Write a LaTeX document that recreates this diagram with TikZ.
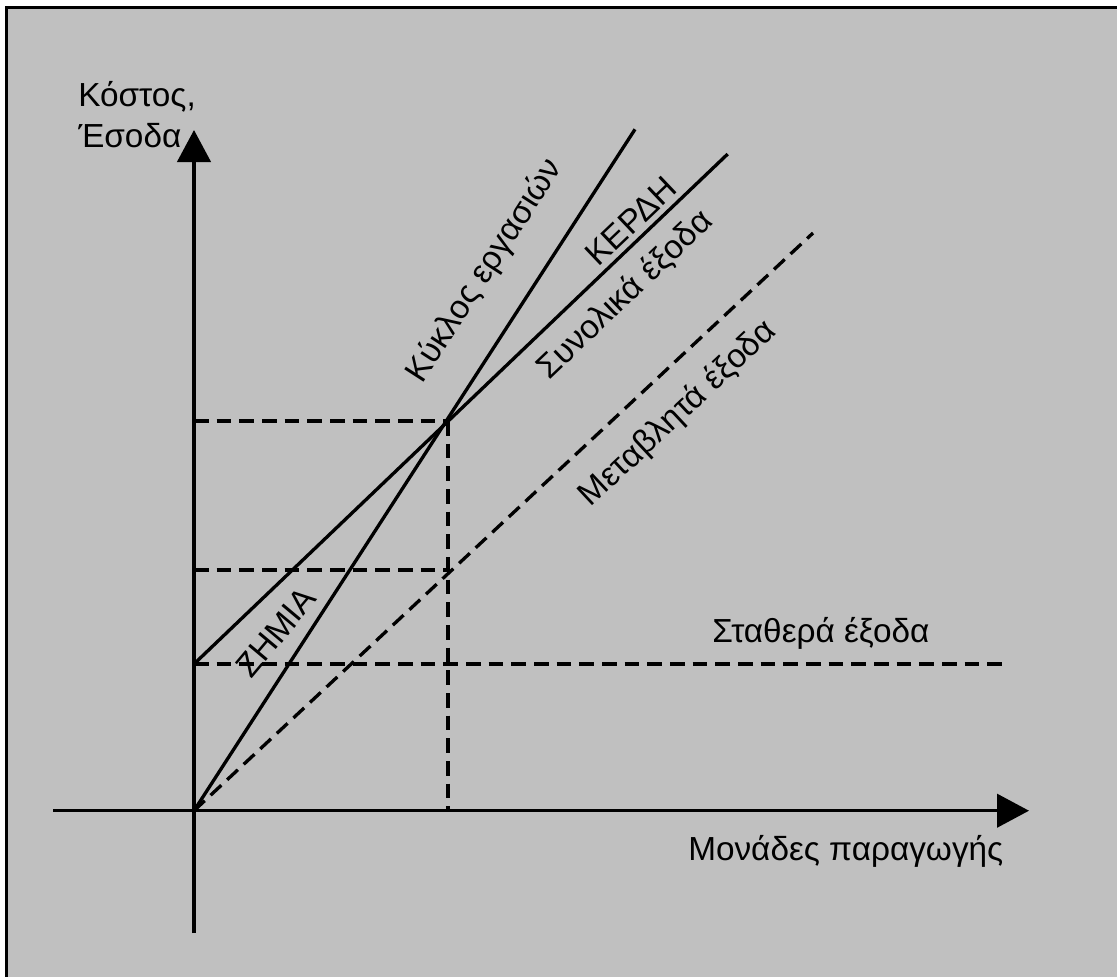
\documentclass[tikz,border=0pt]{standalone}
\usepackage{fontspec}
\setmainfont{Liberation Sans}
\usetikzlibrary{arrows.meta}
\definecolor{panelgray}{HTML}{C0C0C0}

\begin{document}
\begin{tikzpicture}[x=0.75pt, y=-0.75pt,
  axis/.style={line width=2.5pt, -{Triangle[length=24pt, width=25pt]}},
  costline/.style={line width=2.5pt},
  guideline/.style={line width=2.5pt, dash pattern=on 11pt off 6pt},
  lbl/.style={font=\fontsize{25}{30.75}\selectfont, inner sep=0pt}
]
  \useasboundingbox (0,0) rectangle (1117,976);
  \clip (0,0) rectangle (1117,976);
  \fill[white] (0,0) rectangle (1117,976);
  \filldraw[fill=panelgray, draw=black, line width=2.4pt] (6.7,7.7) rectangle (1140,1000);

  % key points
  \coordinate (O) at (194,810.7);
  \coordinate (xstart) at (53,810.7);
  \coordinate (xend) at (1029,810.7);
  \coordinate (ystart) at (194,933);
  \coordinate (yend) at (194,130);
  \coordinate (fixstart) at (194,664);
  \coordinate (fixend) at (1002,664);
  \coordinate (be) at (448,421);
  \coordinate (bex) at (448,810.7);
  \coordinate (bey) at (194,421);
  \coordinate (vcb) at (448,570);
  \coordinate (vcy) at (194,570);
  \coordinate (revend) at (635,129.3);
  \coordinate (totend) at (727.7,154);
  \coordinate (varend) at (813,233);

  % axes
  \draw[axis] (xstart) -- (xend);
  \draw[axis] (ystart) -- (yend);

  % lines
  \draw[costline] (O) -- (revend);
  \draw[costline] (fixstart) -- (totend);
  \draw[guideline] (O) -- (varend);
  \draw[guideline] (fixstart) -- (fixend);
  \draw[guideline] (bey) -- (be);
  \draw[guideline] (vcy) -- (vcb);
  \draw[guideline] (be) -- (bex);

  % labels
  \node[lbl, align=left, anchor=base west] (ylab) at (78,147) {Κόστος,\\Έσοδα};
  \node[lbl, anchor=base west] (xlab) at (688,860) {Μονάδες παραγωγής};
  \node[lbl, anchor=base west] (fixlab) at (712,642) {Σταθερά έξοδα};
  \node[lbl, rotate=57.1] (revlab) at (485,271) {Κύκλος εργασιών};
  \node[lbl, rotate=43.6] (proflab) at (631,221) {ΚΕΡΔΗ};
  \node[lbl, rotate=43.6] (totlab) at (625,295) {Συνολικά έξοδα};
  \node[lbl, rotate=43] (varlab) at (678,414) {Μεταβλητά έξοδα};
  \node[lbl, rotate=50] (losslab) at (276,632) {ΖΗΜΙΑ};
\end{tikzpicture}
\end{document}
